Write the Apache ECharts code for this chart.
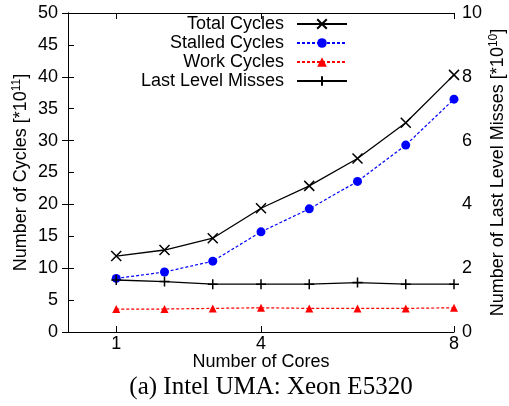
<!DOCTYPE html>
<html>
<head>
<meta charset="utf-8">
<script src="https://cdn.jsdelivr.net/npm/echarts@6/dist/echarts.min.js"></script>
<style>
html,body{margin:0;padding:0;background:#fff;}
#chart{width:509px;height:406px;}
</style>
</head>
<body>
<div id="chart"></div>
<script>
const cores = [1, 2, 3, 4, 5, 6, 7, 8];
const totalCycles = [11.9, 12.85, 14.7, 19.4, 22.9, 27.2, 32.8, 40.3];
const stalledCycles = [8.4, 9.4, 11.1, 15.7, 19.3, 23.6, 29.3, 36.5];
const workCycles = [3.6, 3.6, 3.7, 3.8, 3.7, 3.7, 3.7, 3.8];
const llcMisses = [1.63, 1.58, 1.5, 1.5, 1.5, 1.55, 1.5, 1.5];
const xTickValues = [1, 4, 8];
const seriesNames = ['Total Cycles', 'Stalled Cycles', 'Work Cycles', 'Last Level Misses'];

const pair = arr => cores.map((c, i) => [c, arr[i]]);
const FONT = 'Liberation Sans, Arial, Helvetica, sans-serif';

const chart = echarts.init(document.getElementById('chart'), null, {renderer: 'canvas'});
const option = {
  animation: false,
  backgroundColor: '#fff',
  textStyle: {fontFamily: FONT},
  title: {
    text: '(a) Intel UMA: Xeon E5320',
    left: 266, top: 370, textAlign: 'center',
    textStyle: {fontFamily: 'Liberation Serif, Times New Roman, serif', fontSize: 25, fontWeight: 'normal', color: '#000'}
  },
  grid: {left: 68, right: 55, top: 13, bottom: 74, outerBoundsMode: 'none', containLabel: false},
  legend: {
    data: seriesNames,
    orient: 'vertical',
    right: 161, top: 15,
    padding: 0,
    align: 'right',
    itemWidth: 50, itemHeight: 12, itemGap: 1,
    textStyle: {fontFamily: FONT, fontSize: 18, color: '#000', padding: [0, 8, 0, 0], lineHeight: 18},
    selectedMode: false
  },
  xAxis: [{
    type: 'value', min: 0, max: 8, position: 'bottom',
    name: 'Number of Cores', nameLocation: 'middle', nameGap: 21, nameMoveOverlap: false,
    nameTextStyle: {fontFamily: FONT, fontSize: 18, color: '#000'},
    axisLine: {show: true, lineStyle: {color: '#000', width: 1}},
    axisTick: {show: true, inside: true, length: 6, customValues: xTickValues, lineStyle: {color: '#000'}},
    axisLabel: {customValues: xTickValues, fontSize: 18, color: '#000', margin: 3, fontFamily: FONT},
    splitLine: {show: false}
  }, {
    type: 'value', min: 0, max: 8, position: 'top',
    axisLine: {show: true, onZero: false, lineStyle: {color: '#000', width: 1}},
    axisTick: {show: true, inside: true, length: 6, customValues: xTickValues, lineStyle: {color: '#000'}},
    axisLabel: {show: false},
    splitLine: {show: false}
  }],
  yAxis: [{
    type: 'value', min: 0, max: 50, interval: 5, position: 'left',
    name: '{a|Number of Cycles [*10}{s|11}{a|]}', nameLocation: 'middle', nameGap: 37, nameRotate: 90, nameMoveOverlap: false,
    nameTextStyle: {
      rich: {
        a: {fontFamily: FONT, fontSize: 18, color: '#000'},
        s: {fontFamily: FONT, fontSize: 12, color: '#000', verticalAlign: 'top', padding: [0, 0, 8, 0]}
      }
    },
    axisLine: {show: true, lineStyle: {color: '#000', width: 1}},
    axisTick: {show: true, inside: true, length: 6, lineStyle: {color: '#000'}},
    axisLabel: {fontSize: 18, color: '#000', margin: 10, fontFamily: FONT},
    splitLine: {show: false}
  }, {
    type: 'value', min: 0, max: 10, interval: 2, position: 'right',
    name: '{a|Number of Last Level Misses [*10}{s|10}{a|]}', nameLocation: 'middle', nameGap: 34, nameRotate: 90, nameMoveOverlap: false,
    nameTextStyle: {
      rich: {
        a: {fontFamily: FONT, fontSize: 18, color: '#000'},
        s: {fontFamily: FONT, fontSize: 12, color: '#000', verticalAlign: 'top', padding: [0, 0, 8, 0]}
      }
    },
    axisLine: {show: true, lineStyle: {color: '#000', width: 1}},
    axisTick: {show: true, inside: true, length: 6, lineStyle: {color: '#000'}},
    axisLabel: {fontSize: 18, color: '#000', margin: 8, fontFamily: FONT},
    splitLine: {show: false}
  }],
  series: [{
    name: seriesNames[0], type: 'line', xAxisIndex: 0, yAxisIndex: 0,
    data: pair(totalCycles),
    symbol: 'path://M0,0L10,10M10,0L0,10', symbolSize: 10,
    itemStyle: {color: '#000', borderColor: '#000', borderWidth: 1.5},
    lineStyle: {color: '#000', width: 1.3, type: 'solid'}
  }, {
    name: seriesNames[1], type: 'line', xAxisIndex: 0, yAxisIndex: 0,
    data: pair(stalledCycles),
    symbol: 'circle', symbolSize: 9,
    itemStyle: {color: '#0000ff', borderWidth: 0},
    lineStyle: {color: '#0000ff', width: 1.2, type: [3, 2]}
  }, {
    name: seriesNames[2], type: 'line', xAxisIndex: 0, yAxisIndex: 0,
    data: pair(workCycles),
    symbol: 'triangle', symbolSize: 8,
    itemStyle: {color: '#ff0000', borderWidth: 0},
    lineStyle: {color: '#ff0000', width: 1.2, type: [3, 2]}
  }, {
    name: seriesNames[3], type: 'line', xAxisIndex: 0, yAxisIndex: 1,
    data: pair(llcMisses),
    symbol: 'path://M5,0L5,10M0,5L10,5', symbolSize: 10,
    itemStyle: {color: '#000', borderColor: '#000', borderWidth: 1.5},
    lineStyle: {color: '#000', width: 1.3, type: 'solid'}
  }]
};
chart.setOption(option);
</script>
</body>
</html>
